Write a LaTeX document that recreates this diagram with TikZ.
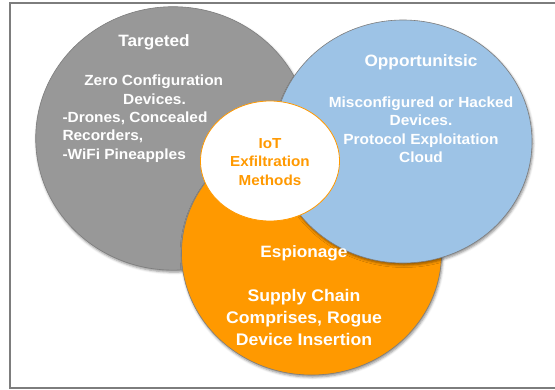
\documentclass[tikz,border=0pt]{standalone}
\usepackage{fontspec}
\setmainfont{Liberation Sans}[FakeStretch=1.05]
\usetikzlibrary{shapes.geometric,shadows.blur}
\definecolor{cgray}{RGB}{152,152,152}
\definecolor{cblue}{RGB}{157,195,230}
\definecolor{corange}{RGB}{255,153,0}
\definecolor{cframe}{RGB}{125,125,125}
\definecolor{cedge}{RGB}{125,125,125}
\begin{document}
\begin{tikzpicture}[x=1pt,y=-1pt,
  bubble/.style={ellipse, inner sep=0pt, draw=cedge, line width=0.6pt,
    blur shadow={shadow xshift=1pt, shadow yshift=-2pt, shadow blur radius=2.5pt, shadow opacity=45}},
  txt/.style={anchor=base, inner sep=0pt, text=white},
  ttl/.style={txt, font=\bfseries\fontsize{16.4}{19}\selectfont},
  bdy/.style={txt, font=\bfseries\fontsize{14.7}{18}\selectfont},
  bdyl/.style={bdy, anchor=base west},
  bdyo/.style={txt, font=\bfseries\fontsize{16.8}{21}\selectfont},
  ctr/.style={anchor=base, inner sep=0pt, text=corange, font=\bfseries\fontsize{14.5}{18}\selectfont}]
\useasboundingbox (0,0) rectangle (555,389);
\clip (0,0) rectangle (555,389);
\draw[cframe, line width=2pt] (10,2.5) rectangle (570,388);

\node[bubble, fill=cgray, minimum width=274.6pt, minimum height=263.4pt] (tg) at (173,138.4) {};
\node[bubble, fill=corange, minimum width=260pt, minimum height=244pt] (es) at (311.5,253) {};
\node[bubble, fill=cblue, minimum width=258pt, minimum height=243pt] (op) at (403,141.5) {};
\node[ellipse, inner sep=0pt, fill=white, draw=corange, line width=0.8pt, minimum width=139pt, minimum height=120pt] (ct) at (270,161) {};

% Targeted
\node[ttl] (tg1) at (154,46.7) {Targeted};
\node[bdy] (tg2) at (153.7,85.7) {Zero Configuration};
\node[bdy] (tg3) at (154.5,104) {Devices.};
\node[bdyl] (tg4) at (62.3,122.3) {-Drones, Concealed};
\node[bdyl] (tg5) at (62.3,140.6) {Recorders,};
\node[bdyl] (tg6) at (62.3,159) {-WiFi Pineapples};

% Opportunistic
\node[ttl] (op1) at (421,66.5) {Opportunitsic};
\node[bdy] (op2) at (421,107.3) {Misconfigured or Hacked};
\node[bdy] (op3) at (421,125.6) {Devices.};
\node[bdy] (op4) at (421,144) {Protocol Exploitation};
\node[bdy] (op5) at (421,162.3) {Cloud};

% Espionage
\node[ttl] (es1) at (304,257.5) {Espionage};
\node[bdyo] (es2) at (304,301.5) {Supply Chain};
\node[bdyo] (es3) at (304,323.3) {Comprises, Rogue};
\node[bdyo] (es4) at (304,345) {Device Insertion};

% Center
\node[ctr] (ct1) at (270,148.3) {IoT};
\node[ctr] (ct2) at (270,166.7) {Exfiltration};
\node[ctr] (ct3) at (270,185) {Methods};
\end{tikzpicture}
\end{document}
